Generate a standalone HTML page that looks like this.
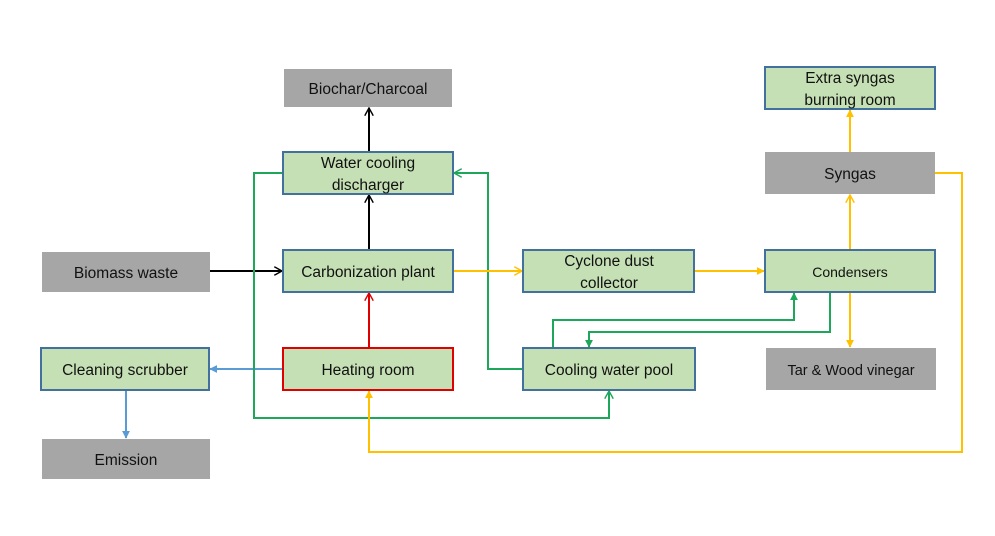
<!DOCTYPE html>
<html><head><style>
body{margin:0;background:#fff;width:995px;height:531px;overflow:hidden}
svg text{font-family:"Liberation Sans",sans-serif;font-size:15.5px;fill:#111;text-anchor:middle}
</style></head><body>
<svg width="995" height="531" viewBox="0 0 995 531">
<defs>
<marker id="ao" viewBox="0 0 10 10" refX="9" refY="5" markerWidth="9" markerHeight="9" orient="auto" markerUnits="userSpaceOnUse"><path d="M0,0L9,5L0,10" fill="none" stroke="context-stroke" stroke-width="1.6"/></marker>
<marker id="af" viewBox="0 0 10 10" refX="9" refY="5" markerWidth="8" markerHeight="8" orient="auto" markerUnits="userSpaceOnUse"><path d="M0,0L10,5L0,10z" fill="context-stroke"/></marker>
</defs>
<g fill="none" stroke-width="2">
<!-- black -->
<path d="M210,271H282" stroke="#000" marker-end="url(#ao)"/>
<path d="M369,250V195" stroke="#000" marker-end="url(#ao)"/>
<path d="M369,152V108" stroke="#000" marker-end="url(#ao)"/>
<!-- red -->
<path d="M369,348V293" stroke="#e00000" marker-end="url(#ao)"/>
<!-- blue -->
<path d="M283,369H210" stroke="#5b9bd5" marker-end="url(#af)"/>
<path d="M126,390V438" stroke="#5b9bd5" marker-end="url(#af)"/>
<!-- green -->
<path d="M283,173H254V418H609V391" stroke="#1ea65a" marker-end="url(#ao)"/>
<path d="M523,369H488V173H454" stroke="#1ea65a" marker-end="url(#ao)"/>
<path d="M553,348V320H794V293" stroke="#1ea65a" marker-end="url(#af)"/>
<path d="M830,292V332H589V347" stroke="#1ea65a" marker-end="url(#af)"/>
<!-- yellow -->
<path d="M453,271H522" stroke="#ffc000" marker-end="url(#ao)"/>
<path d="M694,271H764" stroke="#ffc000" marker-end="url(#af)"/>
<path d="M850,250V195" stroke="#ffc000" marker-end="url(#ao)"/>
<path d="M850,152V110" stroke="#ffc000" marker-end="url(#af)"/>
<path d="M850,292V347" stroke="#ffc000" marker-end="url(#af)"/>
<path d="M935,173H962V452H369V391" stroke="#ffc000" marker-end="url(#af)"/>
</g>
<g stroke-width="2">
<rect x="284" y="69" width="168" height="38" fill="#a6a6a6"/>
<rect x="283" y="152" width="170" height="42" fill="#c5e0b4" stroke="#41719c"/>
<rect x="283" y="250" width="170" height="42" fill="#c5e0b4" stroke="#41719c"/>
<rect x="283" y="348" width="170" height="42" fill="#c5e0b4" stroke="#e00000"/>
<rect x="42" y="252" width="168" height="40" fill="#a6a6a6"/>
<rect x="41" y="348" width="168" height="42" fill="#c5e0b4" stroke="#41719c"/>
<rect x="42" y="439" width="168" height="40" fill="#a6a6a6"/>
<rect x="523" y="250" width="171" height="42" fill="#c5e0b4" stroke="#41719c"/>
<rect x="523" y="348" width="172" height="42" fill="#c5e0b4" stroke="#41719c"/>
<rect x="765" y="250" width="170" height="42" fill="#c5e0b4" stroke="#41719c"/>
<rect x="765" y="152" width="170" height="42" fill="#a6a6a6"/>
<rect x="765" y="67" width="170" height="42" fill="#c5e0b4" stroke="#41719c"/>
<rect x="766" y="348" width="170" height="42" fill="#a6a6a6"/>
</g>
<text x="368" y="94" font-size="16">Biochar/Charcoal</text>
<text x="368" y="168">Water cooling</text>
<text x="368" y="190">discharger</text>
<text x="368" y="277">Carbonization plant</text>
<text x="368" y="375">Heating room</text>
<text x="126" y="278">Biomass waste</text>
<text x="125" y="375">Cleaning scrubber</text>
<text x="126" y="465">Emission</text>
<text x="609" y="266">Cyclone dust</text>
<text x="609" y="288">collector</text>
<text x="609" y="375">Cooling water pool</text>
<text x="850" y="277" style="font-size:14px">Condensers</text>
<text x="850" y="179">Syngas</text>
<text x="850" y="83">Extra syngas</text>
<text x="850" y="105">burning room</text>
<text x="851" y="375" style="font-size:14.5px">Tar &amp; Wood vinegar</text>
</svg>
</body></html>
